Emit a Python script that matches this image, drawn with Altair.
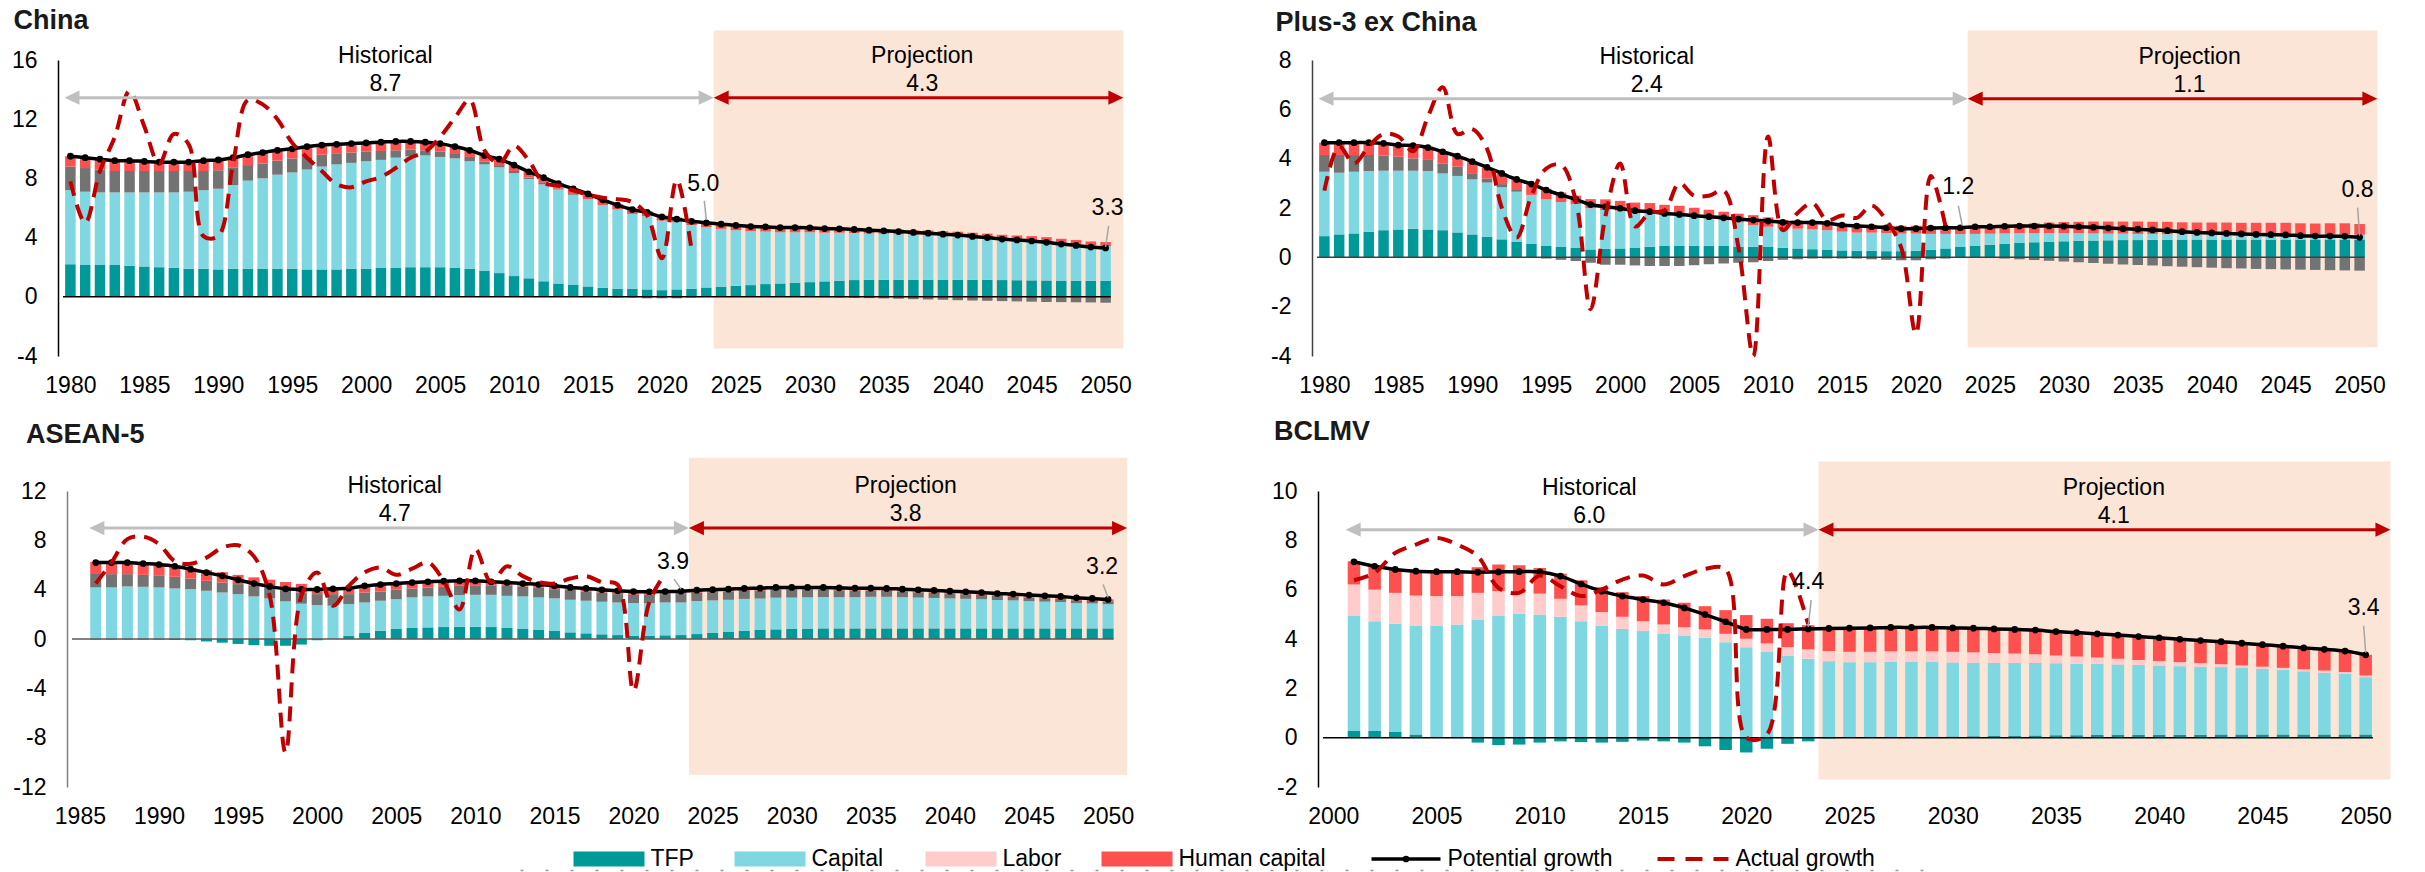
import altair as alt
import pandas as pd

FONT = "Liberation Sans"

# ---------------- China ----------------
china_years = list(range(1980, 2051))
china_tfp = [2.2, 2.15, 2.15, 2.15, 2.1, 2.05, 2.0, 1.95, 1.9, 1.9,
             1.85, 1.9, 1.9, 1.9, 1.9, 1.9, 1.85, 1.85, 1.85, 1.9,
             1.9, 1.95, 1.95, 2.0, 2.0, 2.0, 1.95, 1.9, 1.75, 1.6,
             1.4, 1.25, 1.05, 0.9, 0.8, 0.7, 0.6, 0.55, 0.55, 0.5,
             0.45, 0.5, 0.55, 0.63, 0.68, 0.74, 0.79, 0.86, 0.9, 0.95,
             0.99, 1.04, 1.08, 1.13, 1.15, 1.15, 1.15, 1.15, 1.15, 1.15,
             1.15, 1.15, 1.14, 1.13, 1.12, 1.11, 1.1, 1.09, 1.08, 1.08, 1.08]
china_capital = [5.0, 4.95, 4.9, 4.9, 4.95, 5.0, 5.05, 5.1, 5.2, 5.3,
                 5.45, 5.65, 5.95, 6.1, 6.35, 6.5, 6.75, 6.95, 7.1, 7.15,
                 7.25, 7.3, 7.45, 7.5, 7.55, 7.45, 7.4, 7.25, 7.2, 7.15,
                 6.95, 6.7, 6.55, 6.35, 6.1, 5.9, 5.6, 5.35, 5.05, 4.95,
                 4.7, 4.55, 4.3, 4.07, 3.91, 3.76, 3.64, 3.55, 3.46, 3.41,
                 3.37, 3.29, 3.25, 3.18, 3.13, 3.11, 3.08, 3.06, 3.03, 2.98,
                 2.95, 2.88, 2.83, 2.76, 2.73, 2.7, 2.64, 2.54, 2.48, 2.38, 2.34]
china_labor = [1.6, 1.6, 1.55, 1.45, 1.45, 1.45, 1.45, 1.45, 1.4, 1.3,
               1.25, 1.2, 1.05, 1.0, 0.95, 0.95, 0.85, 0.8, 0.75, 0.7,
               0.65, 0.6, 0.5, 0.45, 0.35, 0.35, 0.3, 0.3, 0.2, 0.15,
               0.15, 0.1, 0.1, 0.05, 0.05, 0.0, 0.0, -0.05, -0.05, -0.1,
               -0.1, -0.1, -0.05, 0.0, 0.0, 0.0, 0.0, 0.0, 0.0, 0.0,
               -0.02, -0.03, -0.05, -0.07, -0.09, -0.11, -0.13, -0.16, -0.18, -0.2,
               -0.23, -0.25, -0.27, -0.29, -0.31, -0.33, -0.35, -0.36, -0.37, -0.38, -0.4]
china_human = [0.7, 0.7, 0.7, 0.7, 0.7, 0.65, 0.6, 0.6, 0.6, 0.7,
               0.7, 0.65, 0.7, 0.75, 0.7, 0.65, 0.7, 0.65, 0.6, 0.6,
               0.6, 0.6, 0.6, 0.55, 0.55, 0.55, 0.5, 0.45, 0.4, 0.4,
               0.4, 0.4, 0.35, 0.35, 0.35, 0.35, 0.35, 0.35, 0.35, 0.35,
               0.35, 0.3, 0.3, 0.3, 0.32, 0.32, 0.32, 0.32, 0.32, 0.32,
               0.32, 0.31, 0.31, 0.31, 0.31, 0.31, 0.31, 0.3, 0.3, 0.3,
               0.3, 0.3, 0.3, 0.3, 0.29, 0.29, 0.29, 0.29, 0.28, 0.28, 0.28]
china_potential = [9.5, 9.4, 9.3, 9.2, 9.2, 9.15, 9.1, 9.1, 9.1, 9.2,
                   9.25, 9.4, 9.6, 9.75, 9.9, 10.0, 10.15, 10.25, 10.3, 10.35,
                   10.4, 10.45, 10.5, 10.5, 10.45, 10.35, 10.15, 9.9, 9.55, 9.3,
                   8.9, 8.45, 8.05, 7.65, 7.3, 6.95, 6.55, 6.2, 5.9, 5.7,
                   5.4, 5.25, 5.1, 5.0, 4.91, 4.82, 4.75, 4.73, 4.68, 4.68,
                   4.66, 4.61, 4.59, 4.55, 4.5, 4.46, 4.41, 4.35, 4.3, 4.23,
                   4.17, 4.08, 4.0, 3.9, 3.84, 3.77, 3.68, 3.56, 3.47, 3.36, 3.3]
china_actual_years = list(range(1980, 2023))
china_actual = [7.8, 5.0, 8.5, 10.8, 13.9, 11.5, 9.0, 11.0, 10.3, 4.1,
                4.1, 9.0, 13.3, 13.0, 12.0, 10.4, 9.4, 8.5, 7.6, 7.4,
                7.8, 8.1, 8.7, 9.4, 9.8, 10.8, 12.1, 13.3, 9.9, 9.0,
                10.2, 9.2, 7.7, 7.5, 7.2, 6.9, 6.7, 6.6, 6.4, 5.5,
                2.6, 7.9, 3.2]

# ---------------- Plus-3 ex China ----------------
plus3_years = list(range(1980, 2051))
plus3_tfp = [0.86, 0.93, 0.97, 1.04, 1.1, 1.13, 1.16, 1.13, 1.1, 1.01,
             0.93, 0.84, 0.73, 0.64, 0.54, 0.46, 0.42, 0.38, 0.32, 0.34,
             0.36, 0.38, 0.43, 0.46, 0.46, 0.47, 0.47, 0.46, 0.43, 0.43,
             0.42, 0.39, 0.36, 0.33, 0.3, 0.28, 0.27, 0.26, 0.25, 0.25,
             0.26, 0.3, 0.36, 0.42, 0.47, 0.51, 0.55, 0.58, 0.61, 0.63,
             0.65, 0.67, 0.68, 0.69, 0.7, 0.7, 0.71, 0.71, 0.72, 0.72,
             0.72, 0.72, 0.72, 0.72, 0.72, 0.72, 0.72, 0.72, 0.72, 0.72, 0.72]
plus3_capital = [2.61, 2.5, 2.5, 2.46, 2.41, 2.38, 2.35, 2.37, 2.3, 2.29,
                 2.23, 2.19, 2.11, 2.02, 1.99, 1.89, 1.82, 1.78, 1.67, 1.58,
                 1.53, 1.4, 1.35, 1.26, 1.22, 1.18, 1.11, 1.05, 0.99, 0.88,
                 0.82, 0.79, 0.8, 0.8, 0.8, 0.76, 0.73, 0.74, 0.73, 0.71,
                 0.7, 0.65, 0.59, 0.52, 0.48, 0.45, 0.42, 0.4, 0.37, 0.35,
                 0.33, 0.31, 0.29, 0.27, 0.26, 0.25, 0.24, 0.23, 0.22, 0.21,
                 0.21, 0.2, 0.2, 0.2, 0.2, 0.2, 0.2, 0.2, 0.2, 0.2, 0.2]
plus3_labor = [0.68, 0.72, 0.68, 0.65, 0.61, 0.57, 0.5, 0.45, 0.41, 0.38,
               0.25, 0.17, 0.13, 0.07, 0.0, -0.05, -0.1, -0.15, -0.22, -0.3,
               -0.3, -0.33, -0.35, -0.35, -0.35, -0.32, -0.28, -0.25, -0.22, -0.2,
               -0.15, -0.1, -0.08, -0.05, -0.05, -0.05, -0.05, -0.08, -0.1, -0.12,
               -0.12, -0.08, -0.05, -0.02, -0.02, -0.03, -0.05, -0.08, -0.11, -0.14,
               -0.17, -0.2, -0.23, -0.26, -0.29, -0.31, -0.33, -0.36, -0.38, -0.4,
               -0.42, -0.44, -0.45, -0.47, -0.48, -0.49, -0.5, -0.51, -0.52, -0.53, -0.54]
plus3_human = [0.5, 0.5, 0.5, 0.5, 0.5, 0.47, 0.52, 0.5, 0.47, 0.42,
               0.47, 0.45, 0.43, 0.43, 0.44, 0.43, 0.39, 0.34, 0.37, 0.43,
               0.4, 0.44, 0.42, 0.41, 0.41, 0.36, 0.35, 0.34, 0.35, 0.4,
               0.38, 0.34, 0.33, 0.33, 0.33, 0.32, 0.32, 0.32, 0.32, 0.32,
               0.32, 0.32, 0.3, 0.28, 0.31, 0.31, 0.34, 0.37, 0.4, 0.43,
               0.45, 0.46, 0.48, 0.49, 0.49, 0.5, 0.49, 0.5, 0.48, 0.48,
               0.48, 0.49, 0.48, 0.48, 0.48, 0.48, 0.46, 0.45, 0.46, 0.46, 0.43]
plus3_potential = [4.65, 4.65, 4.65, 4.65, 4.62, 4.55, 4.53, 4.45, 4.28, 4.1,
                   3.88, 3.65, 3.4, 3.16, 2.97, 2.73, 2.53, 2.35, 2.14, 2.05,
                   1.99, 1.89, 1.85, 1.78, 1.74, 1.69, 1.65, 1.6, 1.55, 1.51,
                   1.47, 1.42, 1.41, 1.41, 1.38, 1.31, 1.27, 1.24, 1.2, 1.16,
                   1.16, 1.19, 1.2, 1.2, 1.24, 1.24, 1.26, 1.27, 1.27, 1.27,
                   1.26, 1.24, 1.22, 1.19, 1.16, 1.14, 1.11, 1.08, 1.04, 1.01,
                   0.99, 0.97, 0.95, 0.93, 0.92, 0.91, 0.88, 0.86, 0.86, 0.85, 0.81]
plus3_actual_years = list(range(1980, 2023))
plus3_actual = [2.7, 4.5, 3.8, 4.5, 5.0, 4.9, 4.3, 5.7, 6.9, 5.0,
                5.2, 4.4, 2.0, 0.8, 2.5, 3.6, 3.75, 2.3, -2.1, 1.65,
                3.8, 1.25, 1.8, 1.9, 3.0, 2.5, 2.5, 2.7, 0.4, -4.0,
                4.9, 1.1, 1.8, 2.2, 1.5, 1.7, 1.6, 2.1, 1.5, 0.4,
                -3.1, 3.3, 1.25]

# ---------------- ASEAN-5 ----------------
asean_years = list(range(1986, 2051))
asean_tfp = [-0.05, -0.05, -0.05, -0.05,
             -0.05, -0.08, -0.1, -0.2, -0.3, -0.4, -0.5, -0.55, -0.55, -0.45,
             -0.1, 0.0, 0.27, 0.49, 0.67, 0.81, 0.89, 0.94, 0.97, 1.0,
             1.0, 0.97, 0.89, 0.81, 0.73, 0.65, 0.54, 0.46, 0.38, 0.32,
             0.27, 0.27, 0.3, 0.32, 0.4, 0.49, 0.59, 0.65, 0.73, 0.78,
             0.81, 0.84, 0.86, 0.86, 0.86, 0.86, 0.86, 0.86, 0.86, 0.86,
             0.86, 0.86, 0.86, 0.86, 0.86, 0.86, 0.86, 0.86, 0.86, 0.86, 0.86]
asean_capital = [4.18, 4.18, 4.26, 4.23,
                 4.18, 4.1, 4.04, 3.91, 3.77, 3.64, 3.45, 3.29, 3.05, 2.86,
                 2.75, 2.7, 2.56, 2.47, 2.43, 2.42, 2.48, 2.51, 2.53, 2.56,
                 2.58, 2.61, 2.61, 2.64, 2.64, 2.64, 2.64, 2.64, 2.64, 2.64,
                 2.64, 2.64, 2.66, 2.64, 2.68, 2.64, 2.59, 2.6, 2.55, 2.57,
                 2.55, 2.54, 2.54, 2.53, 2.53, 2.56, 2.56, 2.53, 2.5, 2.47,
                 2.43, 2.4, 2.36, 2.3, 2.27, 2.21, 2.17, 2.14, 2.05, 2.02, 1.96]
asean_labor = [1.16, 1.08, 1.0, 0.97,
               0.94, 0.94, 0.86, 0.81, 0.81, 0.81, 0.86, 0.89, 0.91, 0.91,
               0.89, 0.94, 0.81, 0.81, 0.75, 0.76, 0.73, 0.73, 0.73, 0.75,
               0.73, 0.73, 0.81, 0.81, 0.81, 0.75, 0.81, 0.73, 0.75, 0.68,
               0.67, 0.67, 0.68, 0.68, 0.68, 0.67, 0.66, 0.65, 0.64, 0.63,
               0.62, 0.6, 0.58, 0.56, 0.53, 0.5, 0.48, 0.45, 0.43, 0.41,
               0.39, 0.37, 0.35, 0.33, 0.31, 0.29, 0.27, 0.25, 0.23, 0.21, 0.19]
asean_human = [0.91, 0.99, 0.99, 0.97,
               0.97, 0.94, 0.86, 0.87, 0.84, 0.75, 0.69, 0.63, 0.66, 0.7,
               0.48, 0.43, 0.48, 0.54, 0.57, 0.51, 0.48, 0.46, 0.46, 0.41,
               0.41, 0.33, 0.27, 0.24, 0.24, 0.27, 0.19, 0.27, 0.22, 0.27,
               0.27, 0.25, 0.21, 0.24, 0.2, 0.2, 0.2, 0.2, 0.2, 0.2,
               0.2, 0.2, 0.2, 0.2, 0.2, 0.2, 0.2, 0.2, 0.2, 0.2,
               0.2, 0.2, 0.2, 0.2, 0.2, 0.2, 0.2, 0.2, 0.2, 0.2, 0.2]
asean_potential = [6.2, 6.2, 6.2, 6.12,
                   6.04, 5.9, 5.66, 5.39, 5.12, 4.8, 4.5, 4.26, 4.07, 4.02,
                   4.02, 4.07, 4.12, 4.31, 4.42, 4.5, 4.58, 4.64, 4.69, 4.72,
                   4.72, 4.64, 4.58, 4.5, 4.42, 4.31, 4.18, 4.1, 3.99, 3.91,
                   3.85, 3.83, 3.85, 3.88, 3.96, 4.0, 4.04, 4.1, 4.12, 4.18,
                   4.18, 4.18, 4.18, 4.15, 4.12, 4.12, 4.1, 4.04, 3.99, 3.94,
                   3.88, 3.83, 3.77, 3.69, 3.64, 3.56, 3.5, 3.45, 3.34, 3.29, 3.21]
asean_actual_years = list(range(1986, 2023))
asean_actual = [4.5, 6.2, 8.1, 8.3,
                7.7, 6.3, 6.1, 6.6, 7.4, 7.6, 6.7, 3.5, -9.2, 3.5,
                5.4, 2.7, 4.3, 5.4, 5.8, 5.2, 5.7, 6.2, 4.7, 2.4,
                7.3, 4.6, 5.9, 5.1, 4.6, 4.5, 4.9, 5.1, 4.6, 4.4,
                -4.2, 3.0, 5.3]

# ---------------- BCLMV ----------------
bclmv_years = list(range(2001, 2051))
bclmv_tfp = [0.27, 0.27, 0.23, 0.13, 0.02, -0.02, -0.2, -0.3, -0.28,
             -0.2, -0.15, -0.18, -0.2, -0.17, -0.12, -0.15, -0.2, -0.35, -0.5,
             -0.6, -0.45, -0.25, -0.15, -0.03, 0.0, 0.01, 0.02, 0.03, 0.04,
             0.05, 0.06, 0.07, 0.08, 0.09, 0.1, 0.1, 0.11, 0.11, 0.12,
             0.12, 0.12, 0.12, 0.13, 0.13, 0.13, 0.13, 0.13, 0.13, 0.13, 0.13]
bclmv_capital = [4.66, 4.45, 4.39, 4.42, 4.53, 4.59, 4.79, 4.95, 5.02,
                 4.99, 4.9, 4.72, 4.55, 4.41, 4.32, 4.22, 4.14, 4.05, 3.87,
                 3.67, 3.47, 3.31, 3.2, 3.1, 3.06, 3.05, 3.05, 3.04, 3.03,
                 3.0, 2.98, 2.96, 2.95, 2.94, 2.92, 2.9, 2.88, 2.86, 2.83,
                 2.81, 2.78, 2.76, 2.73, 2.69, 2.65, 2.61, 2.56, 2.51, 2.45, 2.32]
bclmv_labor = [1.28, 1.28, 1.25, 1.21, 1.19, 1.15, 1.08, 0.99, 0.85,
               0.85, 0.73, 0.64, 0.54, 0.49, 0.4, 0.37, 0.34, 0.34, 0.34,
               0.34, 0.35, 0.36, 0.38, 0.41, 0.42, 0.42, 0.43, 0.43, 0.43,
               0.43, 0.42, 0.4, 0.38, 0.35, 0.31, 0.29, 0.26, 0.23, 0.2,
               0.18, 0.16, 0.14, 0.12, 0.11, 0.1, 0.09, 0.08, 0.08, 0.08, 0.07]
bclmv_human = [0.94, 0.95, 0.95, 0.99, 0.99, 1.01, 1.04, 1.08, 1.12,
               1.04, 1.02, 1.02, 1.01, 1.0, 1.02, 1.01, 0.99, 0.94, 0.96,
               0.96, 1.0, 0.97, 0.98, 0.95, 0.96, 0.97, 0.97, 0.97, 0.97,
               0.97, 0.98, 0.98, 0.98, 0.98, 0.97, 0.97, 0.96, 0.96, 0.95,
               0.94, 0.93, 0.92, 0.91, 0.9, 0.89, 0.88, 0.87, 0.86, 0.85, 0.84]
bclmv_potential = [7.13, 6.95, 6.82, 6.75, 6.73, 6.73, 6.71, 6.72, 6.73,
                   6.72, 6.55, 6.23, 5.94, 5.74, 5.6, 5.47, 5.26, 4.99, 4.7,
                   4.39, 4.39, 4.39, 4.41, 4.43, 4.44, 4.45, 4.47, 4.47, 4.47,
                   4.45, 4.44, 4.41, 4.39, 4.36, 4.3, 4.26, 4.21, 4.16, 4.1,
                   4.05, 3.99, 3.94, 3.89, 3.83, 3.77, 3.71, 3.64, 3.58, 3.51, 3.36]
bclmv_actual_years = list(range(2001, 2024))
bclmv_actual = [6.38, 6.68, 7.49, 7.83, 8.1, 7.83, 7.35, 6.07, 5.87,
                6.57, 6.14, 5.74, 6.0, 6.41, 6.57, 6.21, 6.55, 6.84, 6.82,
                0.0, 0.13, 6.75, 4.6]

# ---------------- legend ----------------
legend_bar_names = ["TFP", "Capital", "Labor", "Human capital"]
legend_line_names = ["Potential growth", "Actual growth"]

# ---------------- styling ----------------
TFP_C = "#00999a"
CAP_C = "#7fd7e1"
LAB_GREY = "#737373"
LAB_PINK = "#ffcccc"
HC_C = "#ff5050"
ACT_C = "#c00000"
BAND_C = "#fbe5d6"
ARROW_GREY = "#bfbfbf"
LEADER_C = "#a6a6a6"
LEFT_HEAD = "M0,0L2,-0.95L2,0.95Z"
RIGHT_HEAD = "M0,0L-2,-0.95L-2,0.95Z"
TXT = 23


def panel(name, years, tfp, cap, lab, hc, pot, act_years, act, s, anchor=False):
    for arr in (tfp, cap, lab, hc, pot):
        if len(arr) != len(years):
            raise ValueError(f"{name}: length {len(arr)} != {len(years)}")
    if len(act) != len(act_years):
        raise ValueError(f"{name}: actual length mismatch")

    xscale = alt.Scale(domain=s["xdomain"], nice=False, zero=False)
    yscale = alt.Scale(domain=s["ydomain"], nice=False, zero=False)
    xaxis = alt.Axis(values=s["xticks"], labelExpr="'' + datum.value", domain=False,
                     ticks=False, tickSize=0, grid=False, labelFontSize=TXT, labelFont=FONT,
                     labelColor="#000000", labelPadding=18, labelFlush=False,
                     labelOverlap=False, title=None)
    yaxis = alt.Axis(values=s["yticks"], labelExpr="'' + datum.value", domainColor=s["axis_color"],
                     domainWidth=1.5, ticks=False, tickSize=0, grid=False, labelFontSize=TXT,
                     labelFont=FONT, labelColor="#000000", labelPadding=21, labelFlush=False,
                     labelOverlap=False, title=None)

    def X(f):
        return alt.X(f, type="quantitative", scale=xscale, axis=xaxis)

    def Y(f, **kw):
        return alt.Y(f, type="quantitative", scale=yscale, axis=yaxis, **kw)

    # stacked contributions
    comps = [("TFP", tfp, TFP_C), ("Capital", cap, CAP_C),
             ("Labor", lab, s["labor_color"]), ("Human capital", hc, HC_C)]
    rows = []
    for i, yr in enumerate(years):
        for order, (cname, vals, col) in enumerate(comps):
            rows.append({"year": yr, "component": cname, "value": vals[i],
                         "order": order, "fill": col})
    bars_df = pd.DataFrame(rows)

    bx0, bx1, by0, by1 = s["band"]
    band = alt.Chart(pd.DataFrame([{"x0": bx0, "x1": bx1, "y0": by0, "y1": by1}])).mark_rect(
        color=BAND_C).encode(x=X("x0"), x2="x1", y=Y("y0"), y2="y1")

    bars = alt.Chart(bars_df).mark_bar(size=s["bar_size"]).encode(
        x=X("year"), y=Y("value", stack="zero"),
        color=alt.Color("fill:N", scale=None), order=alt.Order("order:Q"))

    zero = alt.Chart(pd.DataFrame([{"x0": s["xdomain"][0], "x1": s["xdomain"][1] - 0.15, "y": 0}])).mark_rule(
        color=s["zero_color"], strokeWidth=1.5).encode(x=X("x0"), x2="x1", y=Y("y"))

    pot_line = alt.Chart(pd.DataFrame({"year": years, "value": pot})).mark_line(
        color="#000000", strokeWidth=3.5, interpolate="catmull-rom",
        point=alt.OverlayMarkDef(filled=True, color="#000000", size=45)).encode(
        x=X("year"), y=Y("value"))

    act_line = alt.Chart(pd.DataFrame({"year": act_years, "value": act})).mark_line(
        color=ACT_C, strokeWidth=4, strokeDash=[15, 9], interpolate="catmull-rom").encode(
        x=X("year"), y=Y("value"))

    ay = s["arrow_y"]
    arrow_rules = alt.Chart(pd.DataFrame([
        {"x0": s["grey_left"], "x1": bx0, "y": ay, "c": ARROW_GREY},
        {"x0": bx0, "x1": bx1, "y": ay, "c": ACT_C},
    ])).mark_rule(strokeWidth=3, xOffset=10, x2Offset=-10).encode(
        x=X("x0"), x2="x1", y=Y("y"), color=alt.Color("c:N", scale=None))
    heads = alt.Chart(pd.DataFrame([
        {"x": s["grey_left"], "y": ay, "shape": LEFT_HEAD, "c": ARROW_GREY},
        {"x": bx0, "y": ay, "shape": RIGHT_HEAD, "c": ARROW_GREY},
        {"x": bx0, "y": ay, "shape": LEFT_HEAD, "c": ACT_C},
        {"x": bx1, "y": ay, "shape": RIGHT_HEAD, "c": ACT_C},
    ])).mark_point(filled=True, size=225, strokeWidth=0, opacity=1).encode(
        x=X("x"), y=Y("y"), shape=alt.Shape("shape:N", scale=None),
        fill=alt.Fill("c:N", scale=None))

    period_df = pd.DataFrame([
        {"x": s["hist_x"], "y": ay, "head": "Historical", "avg": s["hist_avg"]},
        {"x": s["proj_x"], "y": ay, "head": "Projection", "avg": s["proj_avg"]},
    ])
    period_head = alt.Chart(period_df).mark_text(
        dy=-42, fontSize=TXT, font=FONT, color="#000000").encode(x=X("x"), y=Y("y"), text="head:N")
    period_avg = alt.Chart(period_df).mark_text(
        dy=-14, fontSize=TXT, font=FONT, color="#000000").encode(x=X("x"), y=Y("y"), text="avg:N")

    layers = [band, bars, zero, pot_line, act_line, arrow_rules, heads, period_head, period_avg]

    for (yr, val, txt, ldx, ldy, bdx, bdy, tdx, tdy) in s["ends"]:
        edf = pd.DataFrame([{"x": yr, "y": val, "t": txt}])
        layers.append(alt.Chart(edf).mark_rule(
            color=LEADER_C, strokeWidth=1.5, xOffset=bdx, yOffset=bdy,
            x2Offset=tdx, y2Offset=tdy).encode(x=X("x"), x2="x", y=Y("y"), y2="y"))
        layers.append(alt.Chart(edf).mark_text(
            dx=ldx, dy=ldy, fontSize=TXT, font=FONT, color="#000000").encode(
            x=X("x"), y=Y("y"), text="t:N"))

    tx, ty = s["title_pos"]
    layers.append(alt.Chart(pd.DataFrame([{"t": name}])).mark_text(
        align="left", baseline="middle", fontSize=27, fontWeight="bold", font=FONT,
        color="#1a1a1a").encode(x=alt.value(tx), y=alt.value(ty), text="t:N"))

    if anchor:
        # fixes the page origin relative to this panel's plot area
        layers.append(alt.Chart(pd.DataFrame([{"a": 0}])).mark_rule(opacity=0, strokeWidth=0).encode(
            x=alt.value(-57.5), x2=alt.value(-57.5), y=alt.value(-60), y2=alt.value(-60)))

    return alt.layer(*layers).properties(width=s["width"], height=s["height"])


china_style = dict(
    width=1060, height=296, xdomain=[1979.5, 2050.5], ydomain=[-4, 16],
    xticks=list(range(1980, 2051, 5)), yticks=[-4, 0, 4, 8, 12, 16],
    axis_color="#000000", zero_color="#000000", labor_color=LAB_GREY, bar_size=10.5,
    band=(2023.5, 2051.2, -3.5, 18.0), arrow_y=13.45, grey_left=1979.6,
    hist_x=2001.3, proj_x=2037.6, hist_avg="8.7", proj_avg="4.3",
    ends=[(2023, 5.0, "5.0", -3, -39, 0, -3, -2, -22),
          (2050, 3.3, "3.3", 2, -40, 0, -1, 3, -22)],
    title_pos=(-44.5, -39),
)
plus3_style = dict(
    width=1060, height=296, xdomain=[1979.5, 2050.5], ydomain=[-4, 8],
    xticks=list(range(1980, 2051, 5)), yticks=[-4, -2, 0, 2, 4, 6, 8],
    axis_color="#404040", zero_color="#404040", labor_color=LAB_GREY, bar_size=10.5,
    band=(2023.5, 2051.2, -3.65, 9.2), arrow_y=6.43, grey_left=1979.6,
    hist_x=2001.8, proj_x=2038.5, hist_avg="2.4", proj_avg="1.1",
    ends=[(2023, 1.2, "1.2", -2, -41, 2, -2, -2, -22),
          (2050, 0.8, "0.8", -2, -48, 0, -2, -2, -30)],
    title_pos=(-36.5, -37),
)
asean_style = dict(
    width=1054, height=296, xdomain=[1984.5, 2050.5], ydomain=[-12, 12],
    xticks=list(range(1985, 2051, 5)), yticks=[-12, -8, -4, 0, 4, 8, 12],
    axis_color="#808080", zero_color="#595959", labor_color=LAB_GREY, bar_size=11,
    band=(2023.5, 2051.2, -11.0, 14.7), arrow_y=9.0, grey_left=1985.6,
    hist_x=2004.9, proj_x=2037.2, hist_avg="4.7", proj_avg="3.8",
    ends=[(2023, 3.88, "3.9", -8, -29, 0, -2, -7, -12),
          (2050, 3.21, "3.2", -6, -32, 0, -2, -5, -15)],
    title_pos=(-41, -56),
)
bclmv_style = dict(
    width=1063, height=296, xdomain=[1999.5, 2050.5], ydomain=[-2, 10],
    xticks=list(range(2000, 2051, 5)), yticks=[-2, 0, 2, 4, 6, 8, 10],
    axis_color="#000000", zero_color="#000000", labor_color=LAB_PINK, bar_size=12.5,
    band=(2023.5, 2051.2, -1.7, 11.2), arrow_y=8.43, grey_left=2000.6,
    hist_x=2012.4, proj_x=2037.8, hist_avg="6.0", proj_avg="4.1",
    ends=[(2023, 4.41, "4.4", 0, -47, 0, -2, 3, -29),
          (2050, 3.36, "3.4", -2, -47, 0, -2, -2, -29)],
    title_pos=(-44, -59),
)

china = panel("China", china_years, china_tfp, china_capital, china_labor, china_human,
              china_potential, china_actual_years, china_actual, china_style, anchor=True)
plus3 = panel("Plus-3 ex China", plus3_years, plus3_tfp, plus3_capital, plus3_labor, plus3_human,
              plus3_potential, plus3_actual_years, plus3_actual, plus3_style)
asean = panel("ASEAN-5", asean_years, asean_tfp, asean_capital, asean_labor, asean_human,
              asean_potential, asean_actual_years, asean_actual, asean_style)
bclmv = panel("BCLMV", bclmv_years, bclmv_tfp, bclmv_capital, bclmv_labor, bclmv_human,
              bclmv_potential, bclmv_actual_years, bclmv_actual, bclmv_style)

# ---------------- legend row ----------------
LEG_W = 2300
leg_x = alt.Scale(domain=[57.5, 57.5 + LEG_W], nice=False, zero=False)
swatch_df = pd.DataFrame({"x0": [573, 734, 925, 1101], "x1": [644, 805, 996, 1172],
                          "c": [TFP_C, CAP_C, LAB_PINK, HC_C]})
label_df = pd.DataFrame({"x": [650, 811, 1002, 1178, 1447, 1735],
                         "t": legend_bar_names + legend_line_names})
swatches = alt.Chart(swatch_df).mark_rect().encode(
    x=alt.X("x0:Q", scale=leg_x, axis=None), x2="x1",
    y=alt.value(2.5), y2=alt.value(17.5), color=alt.Color("c:N", scale=None))
labels = alt.Chart(label_df).mark_text(
    align="left", baseline="middle", fontSize=TXT, font=FONT, color="#000000").encode(
    x=alt.X("x:Q", scale=leg_x, axis=None), y=alt.value(10), text="t:N")
pot_key = alt.Chart(pd.DataFrame([{"x0": 1371, "x1": 1440}])).mark_rule(
    color="#000000", strokeWidth=3.5).encode(
    x=alt.X("x0:Q", scale=leg_x, axis=None), x2="x1", y=alt.value(10))
pot_dot = alt.Chart(pd.DataFrame([{"x": 1405.5}])).mark_point(
    filled=True, color="#000000", size=45, opacity=1).encode(
    x=alt.X("x:Q", scale=leg_x, axis=None), y=alt.value(10))
act_key = alt.Chart(pd.DataFrame([{"x0": 1657, "x1": 1728}])).mark_rule(
    color=ACT_C, strokeWidth=4, strokeDash=[17, 11]).encode(
    x=alt.X("x0:Q", scale=leg_x, axis=None), x2="x1", y=alt.value(10))
# faint dotted frame edge running under the legend
frame_edge = alt.Chart(pd.DataFrame([{"x0": 520, "x1": 1940}])).mark_rule(
    color="#9a9a9a", strokeWidth=1.5, strokeDash=[3, 22]).encode(
    x=alt.X("x0:Q", scale=leg_x, axis=None), x2="x1", y=alt.value(21.5))
legend = alt.layer(swatches, labels, pot_key, pot_dot, act_key, frame_edge).properties(
    width=LEG_W, height=20)

spacer = alt.Chart(pd.DataFrame([{"a": 0}])).mark_point(opacity=0).encode(
    x=alt.value(0), y=alt.value(0)).properties(width=8.5, height=296)

# With flush bounds a nested concat counts as zero-height, so vertical
# spacings below are measured from the top of the previous nested block.
row1 = alt.hconcat(china, plus3, spacing=194, bounds="flush")
row2 = alt.hconcat(spacer, alt.hconcat(asean, bclmv, spacing=197, bounds="flush"),
                   spacing=0, bounds="flush")
grid = alt.vconcat(row1, row2, spacing=431, bounds="flush")
chart = alt.vconcat(grid, legend, spacing=789, bounds="flush").properties(
    padding=0, background="white").configure_view(stroke=None)

chart.save("out.html", embed_options={"renderer": "svg", "actions": False})
